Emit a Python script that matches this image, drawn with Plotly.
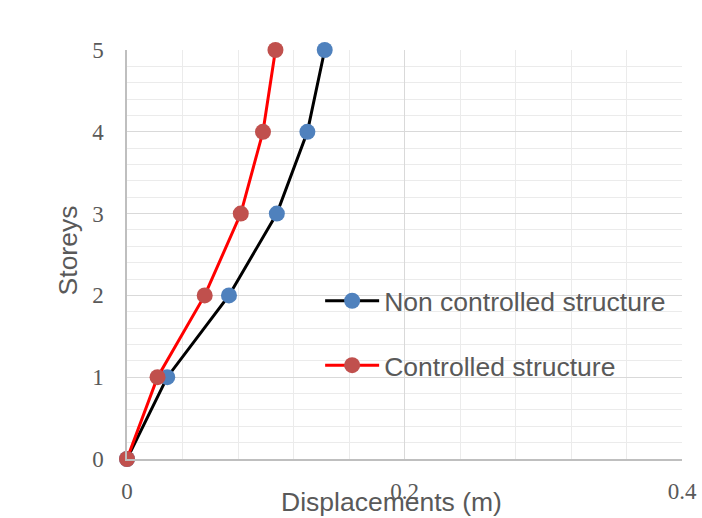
import plotly.graph_objects as go

# Storey levels and lateral displacements (m)
storeys = [0, 1, 2, 3, 4, 5]
disp_uncontrolled = [0.0, 0.029, 0.0735, 0.108, 0.130, 0.1425]
disp_controlled = [0.0, 0.022, 0.056, 0.082, 0.098, 0.107]

x_ticks = [0, 0.2, 0.4]
x_tick_labels = ["0", "0.2", "0.4"]
y_ticks = [0, 1, 2, 3, 4, 5]

label_color = "#595959"
serif = "Liberation Serif, DejaVu Serif, serif"
sans = "Liberation Sans, Arial, sans-serif"

fig = go.Figure()
fig.add_trace(go.Scatter(
    x=disp_uncontrolled, y=storeys, mode="lines+markers",
    name="Non controlled structure", legendgroup="a", cliponaxis=False,
    line=dict(color="#000000", width=3),
    marker=dict(color="#4F81BD", size=16),
))
fig.add_trace(go.Scatter(
    x=disp_controlled, y=storeys, mode="lines+markers",
    name="Controlled structure", legendgroup="b", cliponaxis=False,
    line=dict(color="#FF0000", width=3),
    marker=dict(color="#C0504D", size=16),
))

fig.update_layout(
    width=702, height=518,
    margin=dict(l=127, r=20, t=50, b=59),
    paper_bgcolor="white", plot_bgcolor="white",
    showlegend=True,
    legend=dict(
        x=0.348, y=0.445, xanchor="left", yanchor="top",
        font=dict(family=sans, size=26.5, color=label_color),
        bgcolor="rgba(0,0,0,0)", itemwidth=54,
        tracegroupgap=27,
    ),
    xaxis=dict(
        range=[0, 0.4], tickvals=x_ticks, ticktext=x_tick_labels,
        automargin=False,
        showgrid=True, gridcolor="#D9D9D9", gridwidth=1,
        minor=dict(dtick=0.04, showgrid=True, gridcolor="#EBEBEB", gridwidth=1),
        showline=True, linecolor="#BFBFBF", linewidth=1.5,
        zeroline=False, ticks="",
        tickfont=dict(family=serif, size=23, color=label_color),
        ticklabelstandoff=11,
    ),
    yaxis=dict(
        range=[0, 5], tickvals=y_ticks, automargin=False,
        showgrid=True, gridcolor="#D9D9D9", gridwidth=1,
        minor=dict(dtick=0.2, showgrid=True, gridcolor="#EBEBEB", gridwidth=1),
        showline=True, linecolor="#BFBFBF", linewidth=1.5,
        zeroline=False, ticks="",
        tickfont=dict(family=serif, size=23, color=label_color),
        ticklabelstandoff=17,
    ),
    annotations=[
        dict(text="Displacements (m)", xref="paper", yref="paper",
             x=0.477, y=0, xanchor="center", yanchor="top", yshift=-26,
             showarrow=False, font=dict(family=sans, size=26.5, color=label_color)),
        dict(text="Storeys", xref="paper", yref="paper",
             x=0, y=0.51, xanchor="center", yanchor="middle", xshift=-59,
             textangle=-90, showarrow=False,
             font=dict(family=sans, size=26.5, color=label_color)),
    ],
)

fig.write_html("out.html")
